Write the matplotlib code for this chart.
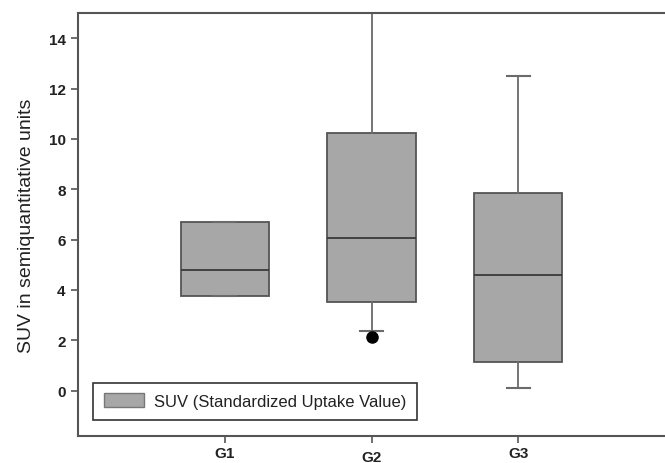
import matplotlib
matplotlib.use('Agg')
import matplotlib.pyplot as plt
import matplotlib.transforms as mtransforms
from matplotlib.patches import Patch

# === DATA ===
groups = ['G1', 'G2', 'G3']
q1 = [3.78, 3.52, 1.12]
medians = [4.80, 6.05, 4.60]
q3 = [6.70, 10.22, 7.86]
whis_lo = [3.78, 2.38, 0.12]
whis_hi = [6.70, 16.0, 12.50]
outliers = [[], [2.12], []]

legend_label = 'SUV (Standardized Uptake Value)'
y_label = 'SUV in semiquantitative units'

plt.rcParams['font.family'] = ['Liberation Sans', 'DejaVu Sans']

fig = plt.figure(figsize=(6.65, 4.64), dpi=100)
ax = fig.add_axes([0.1173, 0.0582, 0.8827, 0.9116])

stats = []
for i, g in enumerate(groups):
    stats.append(dict(label=g, q1=q1[i], med=medians[i], q3=q3[i],
                      whislo=whis_lo[i], whishi=whis_hi[i], fliers=outliers[i]))

box_fill = '#a7a7a7'
edge = '#555555'
ax.bxp(stats, positions=[1, 2, 3], widths=0.6, capwidths=0.16,
       patch_artist=True, showfliers=True,
       boxprops=dict(facecolor=box_fill, edgecolor=edge, linewidth=1.3),
       medianprops=dict(color='#3a3a3a', linewidth=1.3),
       whiskerprops=dict(color='#6a6a6a', linewidth=1.3),
       capprops=dict(color='#6a6a6a', linewidth=1.5),
       flierprops=dict(marker='o', markerfacecolor='black',
                       markeredgecolor='black', markersize=8))

ax.set_xlim(0, 4)
ax.set_ylim(-1.8, 15)
ax.set_yticks(range(0, 15, 2))
ax.set_xticks([1, 2, 3])
ax.set_xticklabels(groups)

for side in ['left', 'top', 'bottom']:
    ax.spines[side].set_color('#555555')
    ax.spines[side].set_linewidth(1.5)
ax.spines['right'].set_visible(False)

ax.tick_params(axis='both', direction='out', length=5, width=1.2,
               color='#555555', labelsize=11, labelcolor='#222222')
ax.tick_params(axis='x', pad=2)
ax.tick_params(axis='y', pad=4)
for lbl in ax.get_yticklabels() + ax.get_xticklabels():
    lbl.set_fontweight('bold')

# the middle category label sits a little lower in the original
off = mtransforms.ScaledTranslation(0, -3 / 72, fig.dpi_scale_trans)
g2 = ax.get_xticklabels()[1]
g2.set_transform(g2.get_transform() + off)

ax.set_ylabel(y_label, fontsize=14, color='#222222', labelpad=10)

handle = Patch(facecolor=box_fill, edgecolor='#777777', linewidth=1)
leg = ax.legend([handle], [legend_label], loc='lower left',
                bbox_to_anchor=(0.0256, 0.038), borderaxespad=0,
                fancybox=False, framealpha=1, edgecolor='#333333',
                fontsize=12, handlelength=2.4, handleheight=0.9,
                borderpad=0.65, handletextpad=0.6)
leg.get_frame().set_linewidth(1.2)
for t in leg.get_texts():
    t.set_color('#222222')

fig.savefig('out.png', dpi=100)
